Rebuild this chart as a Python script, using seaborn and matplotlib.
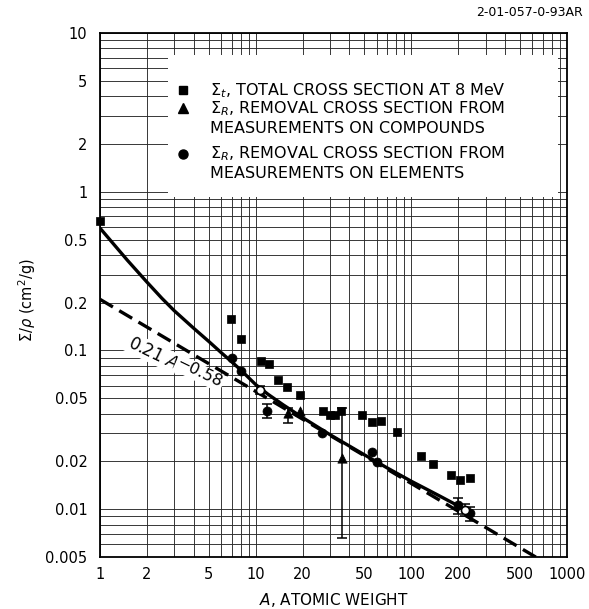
import numpy as np
import pandas as pd
import matplotlib
matplotlib.use("Agg")
import matplotlib.pyplot as plt
import seaborn as sns
from matplotlib.ticker import FixedLocator, FixedFormatter, LogLocator, NullFormatter
from matplotlib.patches import Rectangle

# --- total cross section at 8 MeV ---
total_A = [1.0, 6.9, 8.0, 10.9, 12.2, 13.9, 16.0, 19.2, 27.0, 30.0, 32.2, 35.4,
           47.9, 55.5, 64.3, 80.5, 116, 138, 181, 204, 237]
total_sigma = [0.65, 0.158, 0.118, 0.0853, 0.0819, 0.0653, 0.0593, 0.0524, 0.0418,
               0.0394, 0.0394, 0.0418, 0.039, 0.0355, 0.036, 0.0306, 0.0216,
               0.0193, 0.0165, 0.0153, 0.0157]

# --- removal cross section, measurements on compounds ---
comp_A = [16.2, 19.2, 35.6]
comp_sigma = [0.0403, 0.0414, 0.021]

# --- removal cross section, measurements on elements ---
elem_A = [7.0, 8.1, 11.9, 26.5, 55.5, 60.0, 200, 237]
elem_sigma = [0.0895, 0.0738, 0.0418, 0.0302, 0.0228, 0.0198, 0.0107, 0.0095]
elem_open_A = [10.6, 220]
elem_open_sigma = [0.0565, 0.0099]

# --- error bars (A, value, low, high) ---
err_A = [10.6, 11.9, 16.2, 35.6, 200, 220, 237]
err_sigma = [0.0565, 0.0418, 0.0403, 0.021, 0.0107, 0.0099, 0.0095]
err_low = [0.053, 0.0375, 0.0348, 0.0066, 0.0093, 0.0091, 0.0084]
err_high = [0.060, 0.0463, 0.0437, 0.0434, 0.0117, 0.0108, 0.0104]

# --- smooth fitted curve ---
curve_A = [1, 1.5, 2, 2.5, 3, 4, 5, 6, 7, 8, 10, 12, 15, 20, 30, 50, 70, 100, 150, 200]
curve_sigma = [0.59, 0.37, 0.27, 0.213, 0.178, 0.138, 0.114, 0.097, 0.085, 0.0755,
               0.061, 0.053, 0.0455, 0.0378, 0.0295, 0.0220, 0.0182, 0.0150,
               0.0122, 0.0105]

# --- power law 0.21 A^-0.58 ---
law_coef = 0.21
law_exp = -0.58
law_A = [1, 1000]

x_ticks = [1, 2, 5, 10, 20, 50, 100, 200, 500, 1000]
x_ticklabels = ["1", "2", "5", "10", "20", "50", "100", "200", "500", "1000"]
y_ticks = [0.005, 0.01, 0.02, 0.05, 0.1, 0.2, 0.5, 1, 2, 5, 10]
y_ticklabels = ["0.005", "0.01", "0.02", "0.05", "0.1", "0.2", "0.5", "1", "2", "5", "10"]

legend_labels = [
    r"$\Sigma_t$, TOTAL CROSS SECTION AT 8 MeV",
    r"$\Sigma_R$, REMOVAL CROSS SECTION FROM" + "\nMEASUREMENTS ON COMPOUNDS",
    r"$\Sigma_R$, REMOVAL CROSS SECTION FROM" + "\nMEASUREMENTS ON ELEMENTS",
]

sns.set_style("white")
plt.rcParams["font.family"] = ["DejaVu Sans"]
plt.rcParams["mathtext.fontset"] = "dejavusans"
for key in ["text.color", "axes.labelcolor", "xtick.color", "ytick.color",
            "xtick.labelcolor", "ytick.labelcolor"]:
    plt.rcParams[key] = "black"

fig = plt.figure(figsize=(5.89, 6.09), dpi=100)
ax = fig.add_axes([100 / 589, 1 - 557 / 609, 467 / 589, 524 / 609])
ax.set_xscale("log")
ax.set_yscale("log")
ax.set_xlim(1, 1000)
ax.set_ylim(0.005, 10)

# graph-paper grid
ax.xaxis.set_major_locator(FixedLocator(x_ticks))
ax.xaxis.set_major_formatter(FixedFormatter(x_ticklabels))
ax.yaxis.set_major_locator(FixedLocator(y_ticks))
ax.yaxis.set_major_formatter(FixedFormatter(y_ticklabels))
ax.xaxis.set_minor_locator(LogLocator(base=10, subs=np.arange(1, 10)))
ax.yaxis.set_minor_locator(LogLocator(base=10, subs=np.arange(1, 10)))
ax.xaxis.set_minor_formatter(NullFormatter())
ax.yaxis.set_minor_formatter(NullFormatter())
ax.set_axisbelow(True)
ax.grid(which="both", color="#2a2a2a", linewidth=0.65)
ax.tick_params(which="both", length=0)
ax.tick_params(axis="x", pad=7, labelsize=10.5)
ax.tick_params(axis="y", pad=9, labelsize=10.5)
for sp in ax.spines.values():
    sp.set_color("black")
    sp.set_linewidth(1.3)

# curves
law_df = pd.DataFrame({"A": law_A, "sigma": [law_coef * a ** law_exp for a in law_A]})
sns.lineplot(data=law_df, x="A", y="sigma", ax=ax, color="black", linewidth=2.4,
             linestyle=(0, (4.5, 2.2)), estimator=None, sort=False, zorder=3)
curve_df = pd.DataFrame({"A": curve_A, "sigma": curve_sigma})
sns.lineplot(data=curve_df, x="A", y="sigma", ax=ax, color="black", linewidth=2.4,
             estimator=None, sort=False, zorder=3)

# error bars
ax.errorbar(err_A, err_sigma,
            yerr=[np.array(err_sigma) - np.array(err_low), np.array(err_high) - np.array(err_sigma)],
            fmt="none", ecolor="black", elinewidth=1.1, capsize=3.5, capthick=1.1, zorder=4)

# points
total_df = pd.DataFrame({"A": total_A, "sigma": total_sigma})
sns.scatterplot(data=total_df, x="A", y="sigma", ax=ax, marker="s", s=34,
                color="black", edgecolor="black", linewidth=0.5, zorder=5, clip_on=False)
comp_df = pd.DataFrame({"A": comp_A, "sigma": comp_sigma})
sns.scatterplot(data=comp_df, x="A", y="sigma", ax=ax, marker="^", s=45,
                color="black", edgecolor="black", linewidth=0.5, zorder=5)
elem_df = pd.DataFrame({"A": elem_A, "sigma": elem_sigma})
sns.scatterplot(data=elem_df, x="A", y="sigma", ax=ax, marker="o", s=42,
                color="black", edgecolor="black", linewidth=0.5, zorder=5)
elem_open_df = pd.DataFrame({"A": elem_open_A, "sigma": elem_open_sigma})
sns.scatterplot(data=elem_open_df, x="A", y="sigma", ax=ax, marker="o", s=34,
                facecolor="white", edgecolor="black", linewidth=1.2, zorder=5)

# power-law label along the dashed line
label_box = dict(facecolor="white", edgecolor="none", pad=1.0)
ax.text(2.19, 0.0962, r"0.21 $A$", rotation=-26, rotation_mode="anchor",
        ha="center", va="center", fontsize=12, zorder=2.5, bbox=label_box)
ax.text(4.35, 0.0720, "\u22120.58", rotation=-26, rotation_mode="anchor",
        ha="center", va="center", fontsize=11.5, zorder=2.5, bbox=label_box)

# key box
ax.add_patch(Rectangle((0.146, 0.687), 0.981 - 0.146, 0.958 - 0.687,
                       transform=ax.transAxes, facecolor="white", edgecolor="none", zorder=2))
key_markers = ["s", "^", "o"]
key_rows = [0.891, 0.856, 0.770]
for mk, yk, lab in zip(key_markers, key_rows, legend_labels):
    ax.plot([0.178], [yk], marker=mk, color="black", markersize=6.5 if mk != "s" else 5.8,
            linestyle="none", transform=ax.transAxes, zorder=6)
    ax.text(0.2355, yk + 0.017, lab, transform=ax.transAxes, ha="left", va="top",
            fontsize=11.5, linespacing=1.25, zorder=6)

ax.set_xlabel(r"$A$, ATOMIC WEIGHT", fontsize=11)
ax.xaxis.set_label_coords(0.5, -0.064)
ax.set_ylabel(r"$\Sigma/\rho$ (cm$^2$/g)", fontsize=10.5)
ax.yaxis.set_label_coords(-0.133, 0.49)

fig.text(583 / 589, 1 - 12 / 609, "2-01-057-0-93AR", ha="right", va="center", fontsize=9)

fig.savefig("out.png", dpi=100)
